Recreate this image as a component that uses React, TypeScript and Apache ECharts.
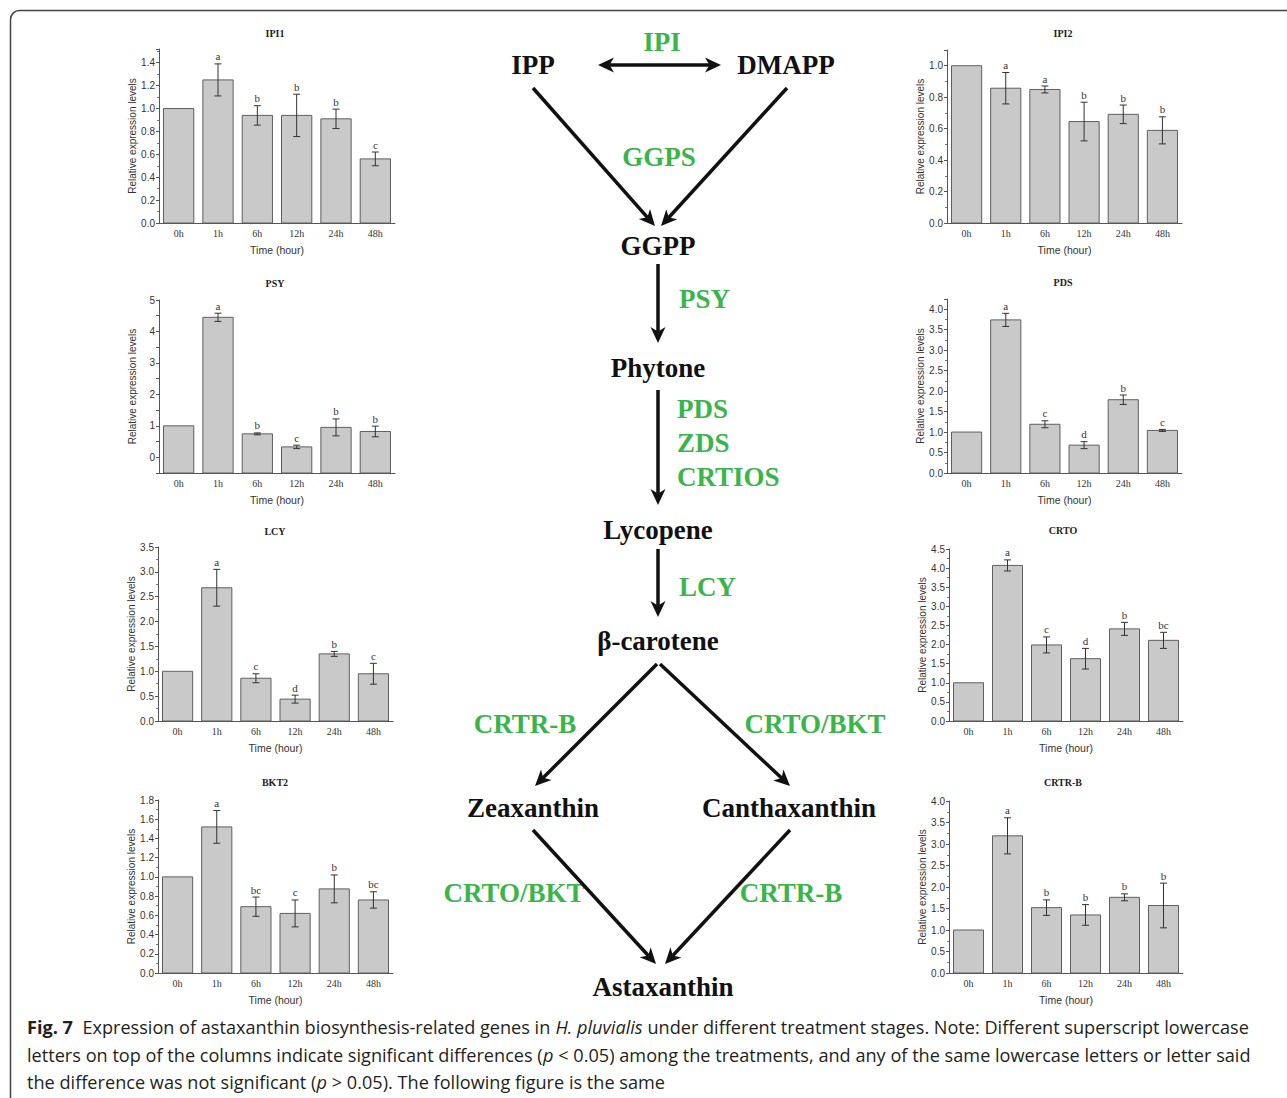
import React, { useEffect, useRef } from 'react';
import * as echarts from 'echarts';

// ---------------- data ----------------
const timeCategories = ['0h', '1h', '6h', '12h', '24h', '48h'];

const ipi1Values = [1.0, 1.25, 0.94, 0.94, 0.91, 0.56];
const ipi1Errors = [0, 0.14, 0.085, 0.185, 0.085, 0.06];
const ipi1Letters = ['', 'a', 'b', 'b', 'b', 'c'];

const ipi2Values = [1.0, 0.857, 0.849, 0.645, 0.691, 0.589];
const ipi2Errors = [0, 0.1, 0.022, 0.123, 0.059, 0.086];
const ipi2Letters = ['', 'a', 'a', 'b', 'b', 'b'];

const psyValues = [1.0, 4.45, 0.745, 0.33, 0.95, 0.82];
const psyErrors = [0, 0.13, 0.03, 0.055, 0.27, 0.17];
const psyLetters = ['', 'a', 'b', 'c', 'b', 'b'];

const pdsValues = [1.0, 3.74, 1.19, 0.68, 1.79, 1.04];
const pdsErrors = [0, 0.16, 0.085, 0.085, 0.115, 0.025];
const pdsLetters = ['', 'a', 'c', 'd', 'b', 'c'];

const lcyValues = [1.0, 2.68, 0.86, 0.44, 1.35, 0.95];
const lcyErrors = [0, 0.37, 0.09, 0.08, 0.05, 0.21];
const lcyLetters = ['', 'a', 'c', 'd', 'b', 'c'];

const crtoValues = [1.0, 4.07, 1.99, 1.63, 2.41, 2.11];
const crtoErrors = [0, 0.145, 0.21, 0.27, 0.17, 0.21];
const crtoLetters = ['', 'a', 'c', 'd', 'b', 'bc'];

const bkt2Values = [1.0, 1.52, 0.69, 0.62, 0.875, 0.76];
const bkt2Errors = [0, 0.17, 0.1, 0.14, 0.145, 0.085];
const bkt2Letters = ['', 'a', 'bc', 'c', 'b', 'bc'];

const crtrbValues = [1.0, 3.19, 1.52, 1.35, 1.76, 1.57];
const crtrbErrors = [0, 0.42, 0.18, 0.24, 0.08, 0.52];
const crtrbLetters = ['', 'a', 'b', 'b', 'b', 'b'];

// y scale per panel: [min, max, tick interval, label step, decimals]
const ipi1Scale = [0, 1.52, 0.2, 0.2, 1];
const ipi2Scale = [0, 1.1, 0.2, 0.2, 1];
const psyScale = [-0.5, 5, 0.5, 1, 0];
const pdsScale = [0, 4.25, 0.5, 0.5, 1];
const lcyScale = [0, 3.5, 0.5, 0.5, 1];
const crtoScale = [0, 4.5, 0.5, 0.5, 1];
const bkt2Scale = [0, 1.8, 0.2, 0.2, 1];
const crtrbScale = [0, 4.0, 0.5, 0.5, 1];

const geneNames = ['IPI1', 'IPI2', 'PSY', 'PDS', 'LCY', 'CRTO', 'BKT2', 'CRTR-B'];
const yAxisName = 'Relative expression levels';
const xAxisName = 'Time (hour)';

const compoundNames = ['IPP', 'DMAPP', 'GGPP', 'Phytone', 'Lycopene', 'β-carotene', 'Zeaxanthin', 'Canthaxanthin', 'Astaxanthin'];
const enzymeNames = ['IPI', 'GGPS', 'PSY', 'PDS', 'ZDS', 'CRTIOS', 'LCY', 'CRTR-B', 'CRTO/BKT', 'CRTO/BKT', 'CRTR-B'];

const captionLines = [
  [['Fig. 7', 'b'], ['  Expression of astaxanthin biosynthesis-related genes in ', 'n'], ['H. pluvialis', 'i'], [' under different treatment stages. Note: Different superscript lowercase', 'n']],
  [['letters on top of the columns indicate significant differences (', 'n'], ['p', 'i'], [' < 0.05) among the treatments, and any of the same lowercase letters or letter said', 'n']],
  [['the difference was not significant (', 'n'], ['p', 'i'], [' > 0.05). The following figure is the same', 'n']],
];

// ---------------- layout ----------------
const panelData = [
  { values: ipi1Values, errors: ipi1Errors, letters: ipi1Letters, scale: ipi1Scale },
  { values: ipi2Values, errors: ipi2Errors, letters: ipi2Letters, scale: ipi2Scale },
  { values: psyValues, errors: psyErrors, letters: psyLetters, scale: psyScale },
  { values: pdsValues, errors: pdsErrors, letters: pdsLetters, scale: pdsScale },
  { values: lcyValues, errors: lcyErrors, letters: lcyLetters, scale: lcyScale },
  { values: crtoValues, errors: crtoErrors, letters: crtoLetters, scale: crtoScale },
  { values: bkt2Values, errors: bkt2Errors, letters: bkt2Letters, scale: bkt2Scale },
  { values: crtrbValues, errors: crtrbErrors, letters: crtrbLetters, scale: crtrbScale },
];

// grid boxes [left, top, width, height] and title centers [x, y]
const panelBoxes = [
  [159, 49, 236, 174],
  [947, 50, 235, 173],
  [159, 300, 236, 173],
  [947, 299, 235, 174],
  [158, 547, 235, 174],
  [949, 549, 234, 172],
  [158, 800, 235, 173],
  [949, 801, 234, 172],
];
const titleCenters = [
  [275, 33], [1063, 33], [275, 283], [1063, 282], [275, 531], [1063, 530], [275, 782], [1063, 782],
];

const compoundPos = [
  [533, 65], [786, 65], [658, 246], [658, 368], [658, 530], [658, 641], [533, 808], [789, 808], [663, 987],
];
// [x, y, align]
const enzymePos = [
  [662, 42, 'center'], [659, 157, 'center'], [679, 299, 'left'], [677, 409, 'left'], [677, 443, 'left'],
  [677, 477, 'left'], [679, 587, 'left'], [525, 724, 'center'], [815, 724, 'center'], [514, 893, 'center'], [791, 893, 'center'],
];
// [x1, y1, x2, y2, double]
const arrowPos = [
  [598, 65, 721, 65, 1],
  [533, 88, 655, 226, 0],
  [787, 88, 661, 226, 0],
  [658, 264, 658, 343, 0],
  [658, 390, 658, 505, 0],
  [658, 549, 658, 617, 0],
  [657, 664, 535, 786, 0],
  [660, 664, 790, 786, 0],
  [533, 830, 656, 964, 0],
  [790, 830, 665, 964, 0],
];

const GREEN = '#39b54a';
const SERIF = "'Liberation Serif', 'Times New Roman', serif";
const SANS = "'Liberation Sans', Arial, sans-serif";
const CAPFONT = "'Open Sans', 'Noto Sans', sans-serif";

function fmtTick(v: number, sc: number[]) {
  const step = sc[3];
  const k = v / step;
  if (Math.abs(k - Math.round(k)) > 1e-6) return '';
  if (v < -1e-9) return '';
  return (Math.round(k) * step).toFixed(sc[4]);
}

function arrowEls(x1: number, y1: number, x2: number, y2: number, both: boolean) {
  const a = Math.atan2(y2 - y1, x2 - x1);
  const c = Math.cos(a), s = Math.sin(a);
  const L = 16, W = 7.5;
  const head = (px: number, py: number, dir: number) => ({
    type: 'polygon',
    shape: {
      points: [
        [px, py],
        [px - dir * L * c - W * s, py - dir * L * s + W * c],
        [px - dir * L * c * 0.72, py - dir * L * s * 0.72],
        [px - dir * L * c + W * s, py - dir * L * s - W * c],
      ],
    },
    style: { fill: '#111' },
  });
  const sx = both ? x1 + L * 0.7 * c : x1;
  const sy = both ? y1 + L * 0.7 * s : y1;
  const els: any[] = [
    { type: 'line', shape: { x1: sx, y1: sy, x2: x2 - L * 0.7 * c, y2: y2 - L * 0.7 * s }, style: { stroke: '#111', lineWidth: 3.5 } },
    head(x2, y2, 1),
  ];
  if (both) els.push(head(x1, y1, -1));
  return els;
}

function measureLine(segs: any[], size: number) {
  const cv = document.createElement('canvas');
  const ctx = cv.getContext('2d');
  if (!ctx) return 1000;
  let w = 0;
  for (const [t, st] of segs) {
    ctx.font = `${st === 'i' ? 'italic ' : ''}${st === 'b' ? 'bold ' : ''}${size}px ${CAPFONT}`;
    w += ctx.measureText(t).width;
  }
  return w;
}

export default function App() {
  const ref = useRef<HTMLDivElement>(null);
  useEffect(() => {
    if (!ref.current) return;
    const chart = echarts.init(ref.current, undefined, { renderer: 'svg' });

    const grids = panelBoxes.map((b) => ({ left: b[0], top: b[1], width: b[2], height: b[3] }));

    const xAxes = panelData.map((_, i) => ({
      type: 'category',
      gridIndex: i,
      data: timeCategories,
      name: xAxisName,
      nameLocation: 'middle',
      nameGap: 21,
      nameTextStyle: { fontFamily: SANS, fontSize: 10.5, color: '#333' },
      axisLine: { show: true, onZero: false, lineStyle: { color: '#555', width: 1 } },
      axisTick: { show: true, inside: true, alignWithLabel: true, length: 3, lineStyle: { color: '#555' } },
      axisLabel: { fontFamily: SERIF, fontSize: 10, color: '#333', margin: 5 },
      splitLine: { show: false },
    }));

    const yAxes = panelData.map((p, i) => ({
      type: 'value',
      gridIndex: i,
      min: p.scale[0],
      max: p.scale[1],
      interval: p.scale[2],
      name: yAxisName,
      nameLocation: 'middle',
      nameGap: 22,
      nameTextStyle: { fontFamily: SANS, fontSize: 10, color: '#333' },
      axisLine: { show: true, lineStyle: { color: '#555', width: 1 } },
      axisTick: { show: true, length: 3, lineStyle: { color: '#555' } },
      minorTick: { show: p.scale[2] === p.scale[3], splitNumber: 2, length: 2, lineStyle: { color: '#777' } },
      splitLine: { show: false },
      axisLabel: { fontFamily: SANS, fontSize: 10, color: '#333', margin: 4, formatter: (v: number) => fmtTick(v, p.scale) },
    }));

    const barSeries = panelData.map((p, i) => ({
      type: 'custom',
      xAxisIndex: i,
      yAxisIndex: i,
      clip: false,
      encode: { x: 0, y: 1 },
      data: p.values.map((v, k) => [k, v]),
      renderItem: (params: any, api: any) => {
        const x = api.value(0), v = api.value(1);
        const top = api.coord([x, v]);
        const base = api.coord([x, p.scale[0]]);
        const w = api.size([1, 0])[0] * 0.77;
        return {
          type: 'rect',
          shape: { x: top[0] - w / 2, y: top[1], width: w, height: base[1] - top[1] },
          style: { fill: '#c9c9c9', stroke: '#5f5f5f', lineWidth: 1 },
        };
      },
    }));

    const errSeries = panelData.map((p, i) => ({
      type: 'custom',
      xAxisIndex: i,
      yAxisIndex: i,
      clip: false,
      z: 5,
      encode: { x: 0, y: 1 },
      data: p.values.map((v, k) => [k, v, p.errors[k]]),
      renderItem: (params: any, api: any) => {
        const idx = params.dataIndex;
        const x = api.value(0), v = api.value(1), e = api.value(2);
        const children: any[] = [];
        const c = api.coord([x, v]);
        let topY = c[1];
        if (e > 0) {
          const t = api.coord([x, v + e]);
          const b = api.coord([x, v - e]);
          const hw = 3.5;
          topY = t[1];
          const st = { stroke: '#333', lineWidth: 1 };
          children.push({ type: 'line', shape: { x1: t[0], y1: t[1], x2: b[0], y2: b[1] }, style: st });
          children.push({ type: 'line', shape: { x1: t[0] - hw, y1: t[1], x2: t[0] + hw, y2: t[1] }, style: st });
          children.push({ type: 'line', shape: { x1: b[0] - hw, y1: b[1], x2: b[0] + hw, y2: b[1] }, style: st });
        }
        const letter = p.letters[idx];
        if (letter) {
          children.push({
            type: 'text',
            x: c[0],
            y: topY - 2,
            style: { text: letter, fontFamily: SERIF, fontSize: 11, fill: '#333', align: 'center', verticalAlign: 'bottom', textAlign: 'center', textVerticalAlign: 'bottom' },
          });
        }
        return { type: 'group', children };
      },
    }));

    const graphics: any[] = [];
    graphics.push({
      type: 'rect',
      shape: { x: 10.5, y: 10.5, width: 1320, height: 1120, r: [9, 0, 0, 0] },
      style: { fill: 'none', stroke: '#444', lineWidth: 1.5 },
      silent: true,
    });

    geneNames.forEach((g, i) => {
      graphics.push({
        type: 'text',
        x: titleCenters[i][0],
        y: titleCenters[i][1],
        style: { text: g, fontFamily: SERIF, fontWeight: 'bold', fontSize: 10, fill: '#222', align: 'center', verticalAlign: 'middle', textAlign: 'center', textVerticalAlign: 'middle' },
      });
    });

    compoundNames.forEach((n, i) => {
      graphics.push({
        type: 'text',
        x: compoundPos[i][0],
        y: compoundPos[i][1],
        style: { text: n, fontFamily: SERIF, fontWeight: 'bold', fontSize: 27, fill: '#111', align: 'center', verticalAlign: 'middle', textAlign: 'center', textVerticalAlign: 'middle' },
      });
    });

    enzymeNames.forEach((n, i) => {
      const [x, y, al] = enzymePos[i] as any[];
      graphics.push({
        type: 'text',
        x,
        y,
        style: { text: n, fontFamily: SERIF, fontWeight: 'bold', fontSize: 27, fill: GREEN, align: al, verticalAlign: 'middle', textAlign: al, textVerticalAlign: 'middle' },
      });
    });

    arrowPos.forEach((a) => {
      arrowEls(a[0], a[1], a[2], a[3], !!a[4]).forEach((el) => graphics.push(el));
    });

    // caption
    const capSize = 18.5;
    const targets = [1223, 1224];
    const scales = targets.map((t, i) => t / measureLine(captionLines[i], capSize));
    const capScaleList = [scales[0], scales[1], (scales[0] + scales[1]) / 2];
    const capY = [1026, 1054, 1081];
    captionLines.forEach((segs, i) => {
      const txt = segs.map(([t, st]) => (st === 'n' ? t.replace(/[{}|]/g, '') : `{${st}|${t}}`)).join('');
      graphics.push({
        type: 'text',
        x: 27,
        y: capY[i],
        scaleX: capScaleList[i],
        style: {
          text: txt,
          fontFamily: CAPFONT,
          fontSize: capSize,
          fill: '#231f20',
          align: 'left',
          verticalAlign: 'middle',
          textAlign: 'left',
          textVerticalAlign: 'middle',
          rich: {
            b: { fontFamily: CAPFONT, fontSize: capSize, fontWeight: 'bold', fill: '#231f20', color: '#231f20' },
            i: { fontFamily: CAPFONT, fontSize: capSize, fontStyle: 'italic', fill: '#231f20', color: '#231f20' },
          },
        },
      });
    });

    chart.setOption({
      animation: false,
      backgroundColor: '#ffffff',
      grid: grids,
      xAxis: xAxes,
      yAxis: yAxes,
      series: [...barSeries, ...errSeries],
      graphic: graphics,
    });

    return () => chart.dispose();
  }, []);

  return <div ref={ref} style={{ position: 'absolute', left: 0, top: 0, width: 1287, height: 1098 }} />;
}
